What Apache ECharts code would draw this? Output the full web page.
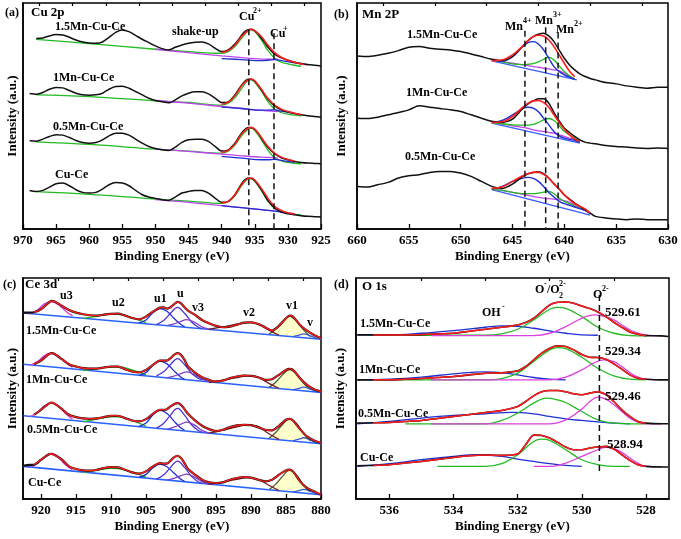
<!DOCTYPE html>
<html><head><meta charset="utf-8">
<script src="https://cdn.jsdelivr.net/npm/echarts@6/dist/echarts.min.js"></script>
<style>html,body{margin:0;padding:0;background:#fff}#c{width:681px;height:539px}</style>
</head><body><div id="c"></div>
<script>
// ---------- tick labels ----------
const cuTicks = [925,930,935,940,945,950,955,960,965,970];
const cuMinor = [927.5,932.5,937.5,942.5,947.5,952.5,957.5,962.5,967.5];
const mnTicks = [630,635,640,645,650,655,660];
const mnMinor = [632.5,637.5,642.5,647.5,652.5,657.5];
const ceTicks = [880,885,890,895,900,905,910,915,920];
const ceMinor = [882.5,887.5,892.5,897.5,902.5,907.5,912.5,917.5];
const oTicks = [528,530,532,534,536];
const oMinor = [529,531,533,535];
const samples = ['1.5Mn-Cu-Ce','1Mn-Cu-Ce','0.5Mn-Cu-Ce','Cu-Ce'];

// ---------- (a) Cu 2p ----------
const cuE = [969,968,967,966,965,964,963,962,961,960,959,958,957,956,955,954,953,952,951,950,949,948,947,946,945,944,943,942,941,940,939,938,937.5,937,936.5,936,935.5,935,934.5,934,933.5,933,932,931,930,929,928,927,926,925];
const cuRaw = [
 [null,572,574,580,584,583,576,568,562,559,558,562,576,591,598,593,582,570,560,550,542,538,546,553,558,561,562,556,543,533,538,556,568,582,593,599,600,595,586,573,560,546,525,514,507,501,497,494,492,490],
 [407,405,410,420,425,424,416,408,403,402,403,408,420,428,429,423,413,403,393,386,382,379,388,400,408,412,412,406,393,380,382,403,418,432,444,450,450,444,432,418,403,390,370,358,352,347,343,340,338,336],
 [265,264,270,278,283,282,275,266,260,258,260,268,280,288,288,282,270,258,248,242,238,236,246,260,268,270,270,263,248,234,238,258,273,288,299,305,305,299,288,273,258,245,226,214,208,203,200,198,197,196],
 [116,113,116,126,136,138,130,118,110,108,110,120,133,140,138,130,116,103,96,92,88,86,96,108,113,116,116,108,93,80,83,103,120,136,148,153,152,145,133,118,101,85,63,51,46,43,40,38,37,36]
];
const cuGE = [968,960,950,945,940,939,938,937,936,935.5,935,934,933,932,931,930,929,928];
const cuG = [
 [570,557,540,533,528,533,548,573,595,598,593,568,536,513,501,496,492,489],
 [403,398,385,380,372,378,394,422,446,448,441,414,382,360,350,345,342,340],
 [262,254,240,234,228,234,252,280,300,303,296,268,236,214,205,200,197,196],
 [112,104,90,84,77,82,100,130,150,151,143,115,84,62,52,47,44,42]
];
const cuRE = [940,939,938,937,936,935.5,935,934,933,932,931,930,929,928,927.5];
const cuR = [
 [530,536,552,578,597,600,596,578,552,530,516,507,501,496,494],
 [375,381,400,430,449,451,445,420,392,372,360,353,348,344,null],
 [230,236,255,285,303,305,300,275,248,228,216,209,204,null,null],
 [78,83,102,133,152,153,147,122,92,68,56,49,45,null,null]
];
const cuME = [950,945,940,937,935,933,931.5];
const cuM = [[540,530,520,515,512,510,510],[386,378,368,362,358,355,353],[240,233,225,220,217,215,213],[88,80,70,64,60,56,53]];
const cuBE = [940,937,934,933,932,931,929,927];
const cuB = [[512,509,506,507,509,506,499,493],[366,362,357,357,358,354,347,null],[218,213,208,208,209,206,200,null],[70,64,58,56,54,51,46,null]];
const cuDashE = [935.9, 932.1];
const cuDashTop = [600, 588];

// ---------- (b) Mn 2p ----------
const mnE = [660,659,658,657,656,655,654,653,652,651,650,649,648,647,646,645,644,643.5,643,642.5,642,641.5,641,640.5,640,639.5,639,638.5,638,637.5,637,636,635,634,633,632,631,630];
const mnRaw = [
 [520,518,522,528,536,546,548,543,540,538,533,526,518,510,506,518,550,566,578,585,588,580,563,538,513,493,478,466,458,452,448,440,436,430,426,423,426,426],
 [333,332,336,343,350,358,370,366,362,358,353,343,333,324,320,330,363,376,385,391,391,378,350,325,303,290,278,268,261,258,256,251,248,246,243,242,243,242],
 [128,126,133,140,153,160,163,170,173,173,168,158,143,128,122,135,158,166,170,172,166,153,136,120,102,90,78,68,58,48,38,33,30,28,30,28,28,28]
];
const mnCE = [647,646,645,644,643.5,643,642.5,642,641.5,641,640.5,640,639.5,639,638.5,638,637.5];
const mnR = [
 [506,508,523,550,566,578,582,580,568,548,523,498,474,458,null,null,null],
 [320,322,338,366,378,385,386,380,366,343,320,300,283,270,263,null,null],
 [122,126,143,160,166,170,170,164,153,136,120,103,88,76,68,60,48]
];
const mnB = [
 [508,504,518,548,560,563,556,538,513,488,473,463,456,450,null,null,null],
 [320,326,343,362,366,363,352,333,313,293,280,273,269,266,260,null,null],
 [120,128,143,153,155,152,143,128,110,96,83,76,71,66,61,56,46]
];
const mnG = [
 [508,502,496,494,495,497,502,510,516,508,490,473,460,451,null,null,null],
 [320,316,313,312,312,314,320,328,332,326,310,293,283,273,264,null,null],
 [120,116,110,106,106,106,108,111,113,106,93,83,76,68,62,56,46]
];
const mnM = [
 [507,503,498,493,491,488,486,483,481,478,475,468,458,450,null,null,null],
 [320,316,310,305,302,298,295,293,290,288,283,278,273,268,260,null,null],
 [120,116,110,104,101,98,95,93,91,90,88,85,80,73,66,58,48]
];
const mnBaseE = [[647,638.8],[647,638.5],[647,637.5]];
const mnBase = [[505,448],[318,258],[118,42]];
const mnDashE = [643.8, 641.8, 640.6];
const mnDashTop = [596, 606, 590];

// ---------- (c) Ce 3d ----------
const ceE = [922.5,922,921,920,919,918.5,918,917,916,915,914,913,912,911,910,909,908,907,906,905,904,903,902.5,902,901.5,901,900.5,900,899.5,899,898,897,896,895,894,893,892,891,890,889,888,887,886,885,884.5,884,883,882,881,880];
const ceRaw = [
 [560,560,561,570,588,595,593,580,568,560,555,552,551,554,556,557,551,544,540,548,563,575,576,572,576,585,592,588,576,566,553,538,528,520,516,518,524,530,531,526,516,506,520,543,551,548,523,506,493,483],
 [null,null,405,416,433,438,435,420,405,398,393,392,392,395,398,398,390,383,380,388,403,416,416,416,423,433,438,433,418,398,380,366,358,353,356,363,368,371,370,366,358,360,373,388,391,388,363,343,330,323],
 [null,null,253,268,285,290,286,270,253,246,242,241,242,246,250,250,243,236,233,240,256,268,268,270,278,285,288,283,270,256,236,220,210,204,208,216,221,223,222,216,208,206,220,238,241,236,210,188,176,168],
 [100,102,103,118,133,136,132,118,98,90,86,85,88,93,96,95,88,80,76,83,98,108,106,106,115,125,130,123,108,90,73,58,50,48,50,58,63,66,64,58,53,58,73,86,88,83,53,33,23,13]
];
const u3E = [921.5,920.5,919.5,918.6,917.5,916.5,915.5];
const u2E = [914,912,910,909,907,905];
const u1E = [906,905,904,903,902,901,900,899.5];
const uE = [903.5,902.5,901.5,900.5,899.5,898.5,897.5,897];
const v3E = [902,901,900,899.2,898,897,896];
const v2E = [896,894,892,890.5,889,887.5,886];
const v1E = [887.5,886.5,885.5,884.5,883.5,882.5,881.5];
const vE = [884,883,882.5,881.5,880.5];
const ceU3 = [[557,568,586,593,584,565,550],[402,413,431,438,429,410,395],[248,260,280,288,278,257,240],[96,107,126,134,124,103,88]];
const ceU2 = [[543,549,555,555,545,530],[386,392,398,398,388,373],[232,240,247,247,236,219],[80,86,92,91,81,66]];
const ceU1 = [[529,538,560,572,564,543,524,518],[371,380,402,414,406,385,366,360],[218,228,253,266,257,234,213,207],[65,74,94,105,97,78,59,53]];
const ceU = [[524,536,558,576,558,532,516,512],[370,382,404,422,404,378,362,358],[213,227,252,272,252,223,205,201],[60,72,95,114,95,68,51,47]];
const ceV3 = [[521,526,534,539,530,517,510],[364,369,377,382,373,360,353],[210,216,225,231,221,206,198],[57,62,70,75,65,52,44]];
const ceV2 = [[510,517,525,530,526,508,492],[350,357,365,370,366,348,332],[198,207,217,223,218,197,179],[44,51,59,64,60,42,25]];
const ceV1 = [[494,510,533,549,536,508,488],[334,350,373,389,376,348,328],[181,199,224,241,227,197,174],[27,44,68,86,72,42,21]];
const ceV = [[488,493,496,490,481],[328,333,336,330,321],[175,181,184,177,167],[21,26,29,23,14]];
const ceBaseE = [922.5, 880];
const ceBase = [[559,480],[405,320],[250,166],[98,13]];
const ceV1Fill = [490,330,177,24];

// ---------- (d) O 1s ----------
const oE = [537,536.5,536,535.5,535,534.5,534,533.5,533,532.5,532,531.75,531.5,531.25,531,530.75,530.5,530.25,530,529.75,529.5,529.25,529,528.75,528.5,528.25,528,527.5,527.3];
const oRaw = [
 [493,493,493,493,494,496,498,504,510,516,523,530,543,563,583,591,592,588,580,572,562,548,531,516,502,495,491,490,488],
 [358,358,358,360,362,365,368,373,378,379,385,398,418,438,453,460,458,448,434,426,425,420,406,390,373,363,360,358,358],
 [228,229,230,233,236,242,248,254,260,266,278,293,310,322,326,326,322,316,313,318,322,314,293,268,248,233,228,226,226],
 [100,101,103,108,113,119,125,130,132,131,135,163,192,191,183,170,156,148,148,153,156,158,150,133,116,103,98,96,96]
];
const oBlueE = [[537,536,535,534,533,532.5,532,531.5,531,530.5,530,529.5],[537,536,535,534,533,532.5,532,531.5,531,530.5],[537,536,535,534,533,532.2,531.5,531,530.5,530,529.5,529,528.5],[537,536,535,534,533.3,532.5,532,531.5,531,530.5,530]];
const oBlue = [[493,493,498,506,516,520,519,513,505,498,493,492],[358,360,366,376,382,380,373,365,360,358],[226,233,243,251,256,260,256,248,241,236,232,228,226],[98,106,118,128,133,128,120,113,106,101,98]];
const oGreenE = [[535.5,533,532.5,532,531.5,531,530.75,530.5,530,529.5,529,528.5,528],[536,533,532.5,532,531.5,531,530.75,530.5,530,529.5,529,528.5,528],[535.5,533,532.5,532,531.5,531.1,530.75,530.5,530,529.5,529,528.5,528],[534.5,533,532.5,532,531.5,531.25,531,530.5,530,529.5,529,528.5]];
const oGreen = [[492,492,496,510,538,570,576,573,548,516,498,491,490],[358,358,362,378,413,448,455,452,426,393,370,360,358],[226,226,236,258,288,303,298,290,263,238,228,226,226],[98,98,106,133,173,180,176,148,118,103,98,98]];
const oMagE = [[534.7,531.5,531,530.5,530,529.6,529.25,529,528.75,528.5,528,527.5],[534.7,531,530.5,530,529.6,529.3,529,528.75,528.5,528.25,528,527.5],[534.7,531,530.5,530,529.75,529.5,529.25,529,528.75,528.5,528.25,528,527.5],[531.5,531,530.5,530,529.5,529.25,529,528.75,528.5,528.25,528,527.5]];
const oMag = [[491,491,498,518,543,553,548,538,523,508,493,490],[358,358,366,388,410,418,413,398,380,366,360,358],[226,226,238,270,293,306,300,283,263,243,231,226,226],[98,98,108,128,148,155,151,140,123,108,98,97]];
const oDashE = [529.45];
const oDashTop = [613];
const oDashBottom = [78];
const oPeakLabels = ['529.61','529.34','529.46','528.94'];

// ---------- build ----------
const FONT = '"Liberation Serif","Times New Roman",serif';
const C = {black:'#111', red:'#ff1c1c', green:'#22bb22', blue:'#1f2fd0', violet:'#c044ee', magenta:'#dd3fdd',
  lblue:'#3a5cff', cblue:'#2a62ff', u:'#5230d0', v3:'#8040c8', maroon:'#7a1c1c', olive:'#4f5a2a', vblue:'#3a5cd0'};
const series = [];
function add(g, E, I, color, w, extra) {
  const data = [];
  E.forEach((e, i) => { if (I[i] != null) data.push([e, I[i]]); });
  series.push(Object.assign({type:'line', xAxisIndex:2*g, yAxisIndex:g, data, symbol:'none', showSymbol:false,
    smooth:0.4, lineStyle:{color, width:w}, silent:true, animation:false, z:2}, extra || {}));
}
function dash(g, e, top, bot) {
  series.push({type:'line', xAxisIndex:2*g, yAxisIndex:g, data:[[e, top],[e, bot]], symbol:'none',
    lineStyle:{color:'#111', width:1.5, type:[6,4]}, silent:true, animation:false, z:5});
}
function filt(E, I, lo, hi) {
  const e2 = [], i2 = [];
  E.forEach((e, i) => { if (e >= lo && e <= hi && I[i] != null) { e2.push(e); i2.push(I[i]); } });
  return [e2, i2];
}

for (let k = 0; k < 4; k++) {
  add(0, cuGE, cuG[k], C.green, 1.3);
  add(0, cuME, cuM[k], C.violet, 1.3);
  add(0, cuBE, cuB[k], C.blue, 1.3);
  add(0, cuE, cuRaw[k], C.black, 1.5, {smooth:0.25});
  add(0, cuRE, cuR[k], C.red, 1.5);
}
cuDashE.forEach((e, i) => dash(0, e, cuDashTop[i], 0));

for (let k = 0; k < 3; k++) {
  add(1, mnBaseE[k], mnBase[k], C.lblue, 1.3, {smooth:false});
  add(1, mnCE, mnM[k], C.violet, 1.3);
  add(1, mnCE, mnG[k], C.green, 1.3);
  add(1, mnCE, mnB[k], C.blue, 1.4);
  add(1, mnE, mnRaw[k], C.black, 1.5, {smooth:0.25});
  add(1, mnCE, mnR[k], C.red, 1.6);
}
mnDashE.forEach((e, i) => dash(1, e, mnDashTop[i], 0));

for (let k = 0; k < 4; k++) {
  add(2, v1E, ceV1[k], C.olive, 1.3, {areaStyle:{color:'#ffffcc', opacity:1, origin:ceV1Fill[k]}});
  add(2, ceBaseE, ceBase[k], C.cblue, 1.6, {smooth:false});
  add(2, u2E, ceU2[k], C.green, 1.3);
  add(2, u3E, ceU3[k], C.magenta, 1.4);
  add(2, u1E, ceU1[k], C.blue, 1.3);
  add(2, uE, ceU[k], C.u, 1.3);
  add(2, v3E, ceV3[k], C.v3, 1.3);
  add(2, v2E, ceV2[k], C.maroon, 1.3);
  add(2, vE, ceV[k], C.vblue, 1.3);
  add(2, ceE, ceRaw[k], C.black, 2.2, {smooth:0.25});
  const r = filt(ceE, ceRaw[k], 880, 921);
  add(2, r[0], r[1], C.red, 1.4, {smooth:0.25});
}

for (let k = 0; k < 4; k++) {
  add(3, oBlueE[k], oBlue[k], C.blue, 1.3);
  add(3, oGreenE[k], oGreen[k], C.green, 1.3);
  add(3, oMagE[k], oMag[k], C.magenta, 1.3);
  add(3, oE, oRaw[k], C.black, 1.6, {smooth:0.25});
  const r = filt(oE, oRaw[k], 527.8, 536.5);
  add(3, r[0], r[1], C.red, 1.5, {smooth:0.25});
}
oDashE.forEach((e, i) => dash(3, e, oDashTop[i], oDashBottom[i]));

const grids = [
  {left:23, top:3, width:298, height:226},
  {left:357, top:3, width:311, height:226},
  {left:23, top:278, width:298, height:221},
  {left:356, top:278, width:313, height:221}
].map(g => Object.assign(g, {show:true, borderColor:'#000', borderWidth:1.5, backgroundColor:'transparent'}));
const ranges = [[925,970],[630,660],[880,922.57],[527.28,537.04]];
const majors = [cuTicks, mnTicks, ceTicks, oTicks];
const minors = [cuMinor, mnMinor, ceMinor, oMinor];
const yMax = [679, 679, 664, 664];
const nameStyle = {color:'#000', fontFamily:FONT, fontWeight:'bold', fontSize:13};
const xAxis = [], yAxis = [];
for (let g = 0; g < 4; g++) {
  xAxis.push({type:'value', gridIndex:g, min:ranges[g][0], max:ranges[g][1], inverse:true,
    axisLine:{show:true, onZero:false, lineStyle:{color:'#000', width:1.5}},
    axisTick:{show:true, inside:true, length:5, customValues:majors[g], lineStyle:{color:'#000', width:1.3}},
    axisLabel:{show:true, customValues:majors[g], margin:5, color:'#000', fontFamily:FONT, fontWeight:'bold', fontSize:13},
    splitLine:{show:false},
    name:'Binding Energy (eV)', nameLocation:'middle', nameGap:21, nameTextStyle:nameStyle});
  xAxis.push({type:'value', gridIndex:g, min:ranges[g][0], max:ranges[g][1], inverse:true,
    axisLine:{show:false, onZero:false},
    axisTick:{show:true, inside:true, length:3, customValues:minors[g], lineStyle:{color:'#000', width:1.2}},
    axisLabel:{show:false}, splitLine:{show:false}});
  yAxis.push({type:'value', gridIndex:g, min:0, max:yMax[g],
    axisLine:{show:true, onZero:false, lineStyle:{color:'#000', width:1.5}},
    axisTick:{show:false}, axisLabel:{show:false}, splitLine:{show:false},
    name:'Intensity (a.u.)', nameLocation:'middle', nameGap:(g % 2 ? 9 : 4), nameTextStyle:nameStyle});
}

function T(x, y, s, size) {
  return {type:'text', x, y, silent:true, z:100,
    style:{text:s, font:'bold ' + (size || 12) + 'px ' + FONT, fill:'#000',
      textAlign:'left', align:'left', textVerticalAlign:'middle', verticalAlign:'middle'}};
}
const texts = [
  T(5,13,'(a)'), T(31,13,'Cu 2p',13), T(55,27,samples[0]), T(172,32,'shake-up'),
  T(239,17,'Cu'), T(253,11,'2+',8), T(270,34,'Cu'), T(283,29,'+',8),
  T(53,78,samples[1]), T(53,127,samples[2]), T(55,175,samples[3]),
  T(334,15,'(b)'), T(362,15,'Mn 2P',13), T(407,35,samples[0]), T(406,93,samples[1]), T(405,157,samples[2]),
  T(505,27,'Mn'), T(523,21,'4+',8), T(535,21,'Mn'), T(553,15,'3+',8), T(556,30,'Mn'), T(574,24,'2+',8),
  T(3,285,'(c)'), T(25,285,'Ce 3d',13), T(60,296,'u3'), T(112,303,'u2'), T(154,299,'u1'), T(177,294,'u'),
  T(192,308,'v3'), T(243,313,'v2'), T(286,306,'v1'), T(307,323,'v'),
  T(26,331,samples[0]), T(26,380,samples[1]), T(27,430,samples[2]), T(28,483,samples[3]),
  T(334,285,'(d)'), T(362,287,'O 1s',13),
  T(482,313,'OH'), T(502,307,'-',8),
  T(535,290,'O'), T(544,284,'-',8), T(547,290,'/O'), T(559,296,'2',8), T(559,284,'2-',8),
  T(593,295,'O'), T(602,289,'2-',8),
  T(605,313,oPeakLabels[0],13), T(605,352,oPeakLabels[1],13), T(605,397,oPeakLabels[2],13), T(607,445,oPeakLabels[3],13),
  T(360,324,samples[0]), T(359,370,samples[1]), T(358,414,samples[2]), T(360,458,samples[3])
];

const chart = echarts.init(document.getElementById('c'), null, {renderer:'canvas'});
chart.setOption({animation:false, backgroundColor:'#fff', grid:grids, xAxis, yAxis, series, graphic:texts});
</script></body></html>
